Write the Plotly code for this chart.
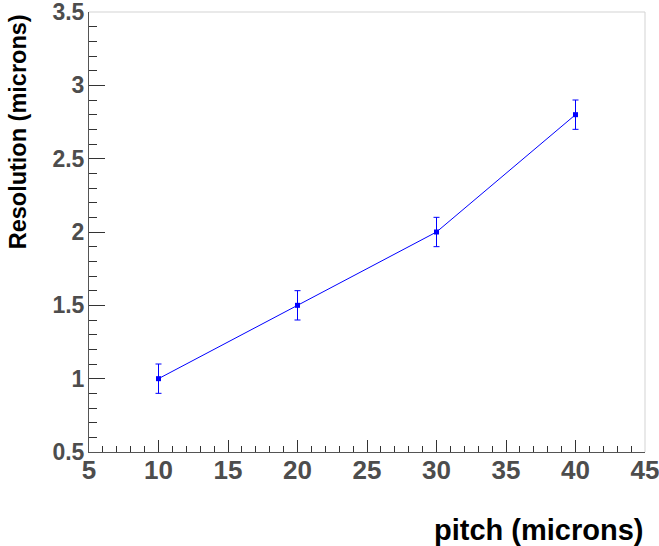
import plotly.graph_objects as go

pitch = [10, 20, 30, 40]
resolution = [1.0, 1.5, 2.0, 2.8]
res_err = [0.1, 0.1, 0.1, 0.1]

x_title = "pitch (microns)"
y_title = "Resolution (microns)"

fig = go.Figure()
fig.add_trace(go.Scatter(
    x=pitch, y=resolution,
    mode="lines+markers",
    line=dict(color="#0000ff", width=1),
    marker=dict(symbol="square", size=5, color="#0000ff"),
    error_y=dict(type="data", array=res_err, visible=True, color="#0000ff", thickness=1, width=3),
    showlegend=False,
))

fam = "Liberation Sans, Arial, sans-serif"
xtickfont = dict(family=fam, size=26, color="#4d4d4d", weight="bold")
ytickfont = dict(family=fam, size=23, color="#4d4d4d", weight="bold")
fig.update_layout(
    width=659, height=546,
    margin=dict(l=89, r=14, t=12, b=94),
    paper_bgcolor="white", plot_bgcolor="white",
    xaxis=dict(
        range=[5, 45], showgrid=False, zeroline=False, automargin=False,
        showline=True, linecolor="#555555", linewidth=1, mirror=False,
        ticks="inside", ticklen=12, tickwidth=1, tickcolor="#333333",
        tick0=5, dtick=5, tickfont=xtickfont, ticklabelstandoff=-5,
        ticklabeloverflow="allow",
        minor=dict(ticks="inside", ticklen=6, dtick=1, tick0=5, tickcolor="#333333", showgrid=False),
    ),
    yaxis=dict(
        range=[0.5, 3.5], showgrid=False, zeroline=False, automargin=False,
        showline=True, linecolor="#555555", linewidth=1, mirror=False,
        ticks="inside", ticklen=16, tickwidth=1, tickcolor="#333333",
        tick0=0.5, dtick=0.5, tickfont=ytickfont, ticklabelstandoff=-1,
        ticklabeloverflow="allow",
        minor=dict(ticks="inside", ticklen=8, dtick=0.1, tick0=0.5, tickcolor="#333333", showgrid=False),
    ),
    shapes=[
        dict(type="line", xref="paper", yref="paper", x0=0, x1=1, y0=1, y1=1, line=dict(color="#d3d3d3", width=1)),
        dict(type="line", xref="paper", yref="paper", x0=1, x1=1, y0=0, y1=1, line=dict(color="#d3d3d3", width=1)),
    ],
    annotations=[
        dict(text=x_title, xref="paper", yref="paper", x=1, y=-0.177, xanchor="right", yanchor="middle",
             showarrow=False, font=dict(family=fam, size=29, color="black", weight="bold")),
        dict(text=y_title, xref="paper", yref="paper", x=-0.128, y=1, xanchor="center", yanchor="top",
             textangle=-90, showarrow=False,
             font=dict(family=fam, size=23.5, color="black", weight="bold")),
    ],
)

fig.write_html("out.html", config={"displayModeBar": False},
               post_script="document.body.style.margin='0';")
